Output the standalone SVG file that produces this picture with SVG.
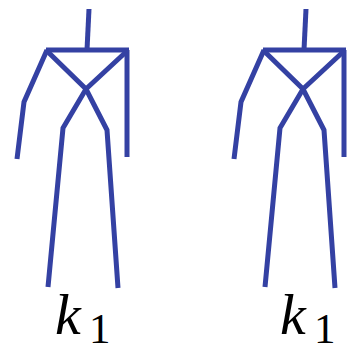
<svg xmlns="http://www.w3.org/2000/svg" width="349" height="350" viewBox="0 0 349 350">
  <defs>
    <!-- stick figure skeleton -->
    <g id="skeleton" fill="none" stroke="#3441a3" stroke-width="5">
      <polyline points="89,9 87,50"/>
      <polyline points="46,50 129,50"/>
      <polyline points="47,50 24,102 17,159"/>
      <polyline points="127,50 127,157"/>
      <polyline points="47,51 86,89 107,130 118,288"/>
      <polyline points="127,51 86,89 63,128 48,287"/>
    </g>
  </defs>
  <rect width="349" height="350" fill="#fff"/>
  <g id="figure-left">
    <use href="#skeleton"/>
    <text x="55" y="334" font-family="Times New Roman, serif" font-style="italic" font-size="58">k</text>
    <text x="89" y="343" font-family="Times New Roman, serif" font-size="43">1</text>
  </g>
  <g id="figure-right">
    <use href="#skeleton" x="217"/>
    <text x="280" y="334" font-family="Times New Roman, serif" font-style="italic" font-size="58">k</text>
    <text x="314" y="343" font-family="Times New Roman, serif" font-size="43">1</text>
  </g>
</svg>
